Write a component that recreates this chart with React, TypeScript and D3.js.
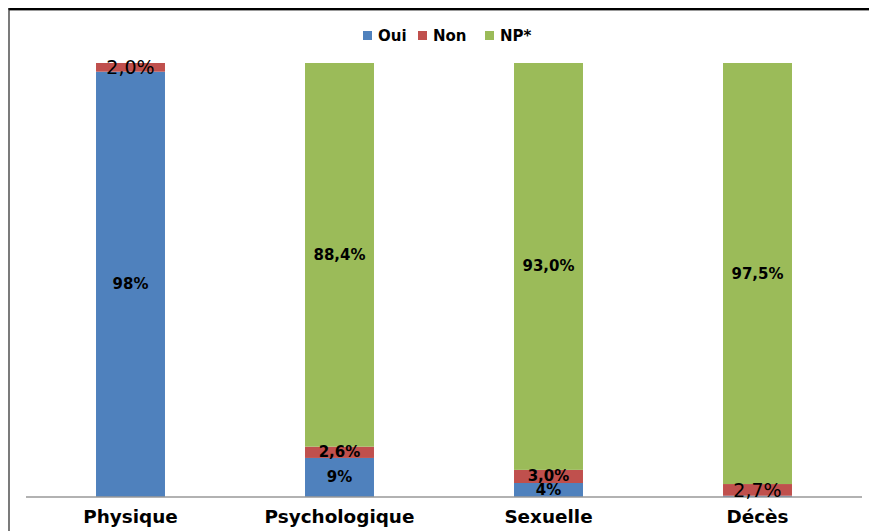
import React from "react";
import * as d3 from "d3";

const categories = ["Physique", "Psychologique", "Sexuelle", "Décès"];
const seriesNames = ["Oui", "Non", "NP*"];
const ouiValues = [98, 9, 3.2, 0.3];
const nonValues = [2.0, 2.6, 3.0, 2.7];
const npValues = [0, 88.4, 93.0, 97.5];
const ouiLabels = ["98%", "9%", "4%", ""];
const nonLabels = ["2,0%", "2,6%", "3,0%", "2,7%"];
const npLabels = ["", "88,4%", "93,0%", "97,5%"];
const colors = ["#4F81BD", "#C0504D", "#9BBB59"];

const W = 869;
const H = 531;
const FONT = "'DejaVu Sans', sans-serif";

export default function App() {
  const rows = categories.map((c, i) => ({
    cat: c,
    Oui: ouiValues[i],
    Non: nonValues[i],
    "NP*": npValues[i],
  }));
  const stack = d3.stack<any>().keys(seriesNames).offset(d3.stackOffsetExpand);
  const layers = stack(rows);

  const x = d3.scaleBand().domain(categories).range([26, 862]).paddingInner(0.67).paddingOuter(0.335);
  const y = d3.scaleLinear().domain([0, 1]).range([497, 63]);

  const labels = [ouiLabels, nonLabels, npLabels];
  const boldMap = [
    [true, true, true, true],
    [false, true, true, false],
    [true, true, true, true],
  ];

  const legendItems = [
    { name: "Oui", x: 363 },
    { name: "Non", x: 418 },
    { name: "NP*", x: 485 },
  ];

  return (
    <svg width={W} height={H} style={{ position: "absolute", left: 0, top: 0, display: "block" }} fontFamily={FONT}>
      <rect x={0} y={0} width={W} height={H} fill="#fff" />
      {/* frame */}
      <line x1={9} x2={W} y1={10.5} y2={10.5} stroke="#999" strokeWidth={1} />
      <line x1={8.5} x2={W} y1={9} y2={9} stroke="#000" strokeWidth={2} />
      <line x1={9} x2={9} y1={8} y2={H} stroke="#222" strokeWidth={1.2} />

      {/* bars */}
      {layers.map((layer, li) => (
        <g key={layer.key}>
          {layer.map((d, i) => {
            const h = y(d[0]) - y(d[1]);
            if (h <= 0) return null;
            return (
              <rect
                key={i}
                x={x(categories[i])}
                y={y(d[1])}
                width={x.bandwidth()}
                height={h}
                fill={colors[li]}
              />
            );
          })}
        </g>
      ))}

      {/* axis */}
      <line x1={26} x2={862} y1={497} y2={497} stroke="#999" strokeWidth={1.5} />

      {/* data labels */}
      {layers.map((layer, li) => (
        <g key={"l" + layer.key}>
          {layer.map((d, i) => {
            const t = labels[li][i];
            if (!t) return null;
            const cx = (x(categories[i]) as number) + x.bandwidth() / 2;
            const cy = (y(d[0]) + y(d[1])) / 2;
            const bold = boldMap[li][i];
            return (
              <text
                key={i}
                x={cx}
                y={cy}
                textAnchor="middle"
                dominantBaseline="central"
                fontSize={bold ? 15 : 19}
                fontWeight={bold ? "bold" : "normal"}
                fill="#000"
              >
                {t}
              </text>
            );
          })}
        </g>
      ))}

      {/* category labels */}
      {categories.map((c) => (
        <text
          key={c}
          x={(x(c) as number) + x.bandwidth() / 2}
          y={516}
          textAnchor="middle"
          dominantBaseline="central"
          fontSize={18.4}
          fontWeight="bold"
          fill="#000"
        >
          {c}
        </text>
      ))}

      {/* legend */}
      {legendItems.map((l, i) => (
        <g key={l.name}>
          <rect x={l.x} y={31} width={9} height={9} fill={colors[i]} />
          <text x={l.x + 15} y={36} dominantBaseline="central" fontSize={15} fontWeight="bold" fill="#000">
            {l.name}
          </text>
        </g>
      ))}
    </svg>
  );
}
